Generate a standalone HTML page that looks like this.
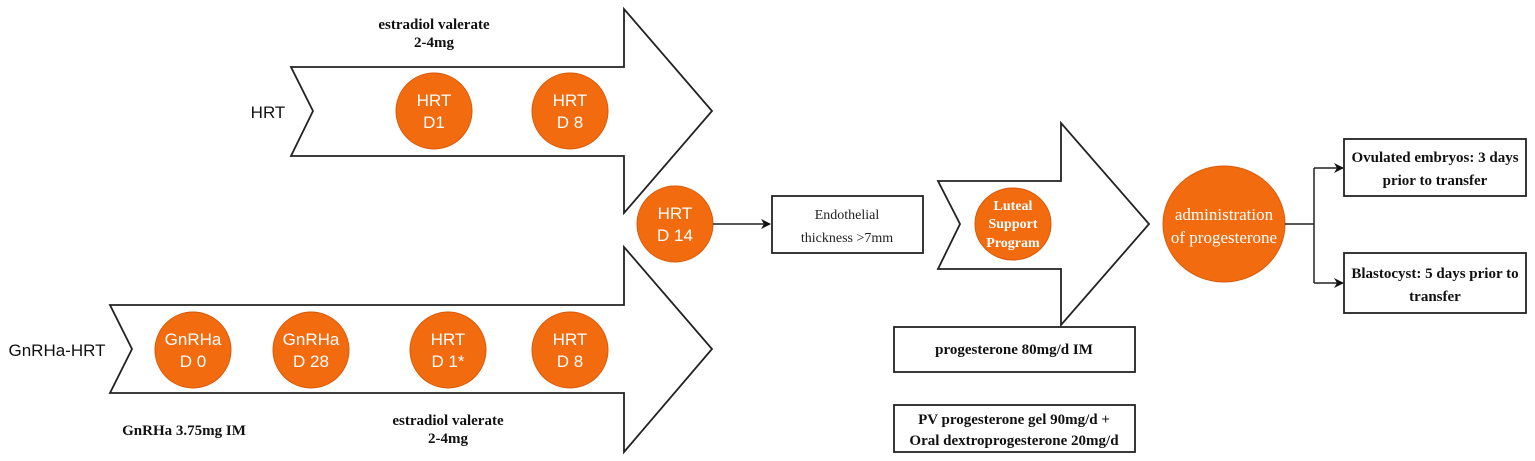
<!DOCTYPE html>
<html><head><meta charset="utf-8"><style>
html,body{margin:0;padding:0;background:#fff;}
svg{display:block}
.c{fill:#F26B0F;stroke:#D85A0A;stroke-width:1}
.w{font-family:"Liberation Sans",sans-serif;fill:#fff;font-size:17px;text-anchor:middle}
.s{font-family:"Liberation Serif",serif;fill:#111;font-size:15px;font-weight:bold;text-anchor:middle}
.b{fill:#fff;stroke:#222;stroke-width:1.8}
</style></head><body>
<svg width="1535" height="461" viewBox="0 0 1535 461" xmlns="http://www.w3.org/2000/svg">
<defs><marker id="ah" markerWidth="10" markerHeight="10" refX="9" refY="5" orient="auto" markerUnits="userSpaceOnUse"><path d="M0,0 L10,5 L0,10 L3,5 z" fill="#111"/></marker></defs>
<path class="b" d="M291,67 L624,67 L624,9 L712,111 L624,213 L624,156 L291,156 L313,111 Z"/>
<path class="b" d="M110,305 L624,305 L624,247 L712,349 L624,452 L624,393 L110,393 L132,349 Z"/>
<path class="b" d="M938,181 L1061,181 L1061,123 L1149,224 L1061,325 L1061,269 L938,269 L960,224 Z"/>
<text x="434" y="29" class="s">estradiol valerate</text>
<text x="434" y="47" class="s">2-4mg</text>
<text x="268" y="118" font-family="Liberation Sans,sans-serif" font-size="17" text-anchor="middle" fill="#111">HRT</text>
<text x="57" y="356" font-family="Liberation Sans,sans-serif" font-size="17" text-anchor="middle" fill="#111">GnRHa-HRT</text>
<text x="184" y="435" class="s">GnRHa 3.75mg IM</text>
<text x="448" y="425" class="s">estradiol valerate</text>
<text x="448" y="443" class="s">2-4mg</text>
<circle class="c" cx="434" cy="111" r="38"/><text class="w" x="434" y="106">HRT</text><text class="w" x="434" y="128">D1</text>
<circle class="c" cx="570" cy="111" r="38"/><text class="w" x="570" y="106">HRT</text><text class="w" x="570" y="128">D 8</text>
<circle class="c" cx="675" cy="224" r="38"/><text class="w" x="675" y="219">HRT</text><text class="w" x="675" y="241">D 14</text>
<circle class="c" cx="193" cy="350" r="38"/><text class="w" x="193" y="345">GnRHa</text><text class="w" x="193" y="367">D 0</text>
<circle class="c" cx="311" cy="350" r="38"/><text class="w" x="311" y="345">GnRHa</text><text class="w" x="311" y="367">D 28</text>
<circle class="c" cx="448" cy="350" r="38"/><text class="w" x="448" y="345">HRT</text><text class="w" x="448" y="367">D 1*</text>
<circle class="c" cx="570" cy="350" r="38"/><text class="w" x="570" y="345">HRT</text><text class="w" x="570" y="367">D 8</text>
<line x1="713" y1="224" x2="770" y2="224" stroke="#222" stroke-width="1.5" marker-end="url(#ah)"/>
<rect class="b" x="772" y="196" width="151" height="57"/>
<text x="847" y="219" font-family="Liberation Serif,serif" font-size="14" text-anchor="middle" fill="#222">Endothelial</text>
<text x="847" y="242" font-family="Liberation Serif,serif" font-size="14" text-anchor="middle" fill="#222">thickness &gt;7mm</text>
<ellipse class="c" cx="1013" cy="224" rx="38" ry="36"/>
<text x="1013" y="210" class="s" style="fill:#fff;font-size:14px">Luteal</text>
<text x="1013" y="228" class="s" style="fill:#fff;font-size:14px">Support</text>
<text x="1013" y="247" class="s" style="fill:#fff;font-size:14px">Program</text>
<ellipse class="c" cx="1224" cy="224" rx="61" ry="58"/>
<text x="1224" y="220" font-family="Liberation Serif,serif" font-size="17" text-anchor="middle" fill="#fff">administration</text>
<text x="1224" y="243" font-family="Liberation Serif,serif" font-size="17" text-anchor="middle" fill="#fff">of progesterone</text>
<path d="M1285,224 L1314,224 M1314,168 L1314,283" stroke="#222" stroke-width="1.5" fill="none"/>
<line x1="1314" y1="168" x2="1343" y2="168" stroke="#222" stroke-width="1.5" marker-end="url(#ah)"/>
<line x1="1314" y1="283" x2="1343" y2="283" stroke="#222" stroke-width="1.5" marker-end="url(#ah)"/>
<rect class="b" x="1344" y="139" width="182" height="57"/>
<text x="1435" y="162" class="s">Ovulated embryos: 3 days</text>
<text x="1435" y="185" class="s">prior to transfer</text>
<rect class="b" x="1344" y="253" width="182" height="60"/>
<text x="1435" y="278" class="s">Blastocyst: 5 days prior to</text>
<text x="1435" y="301" class="s">transfer</text>
<rect class="b" x="894" y="327" width="241" height="45"/>
<text x="1014" y="354" class="s">progesterone 80mg/d IM</text>
<rect class="b" x="894" y="405" width="241" height="47"/>
<text x="1014" y="424" class="s">PV progesterone gel 90mg/d +</text>
<text x="1014" y="445" class="s">Oral dextroprogesterone 20mg/d</text>
</svg>
</body></html>
